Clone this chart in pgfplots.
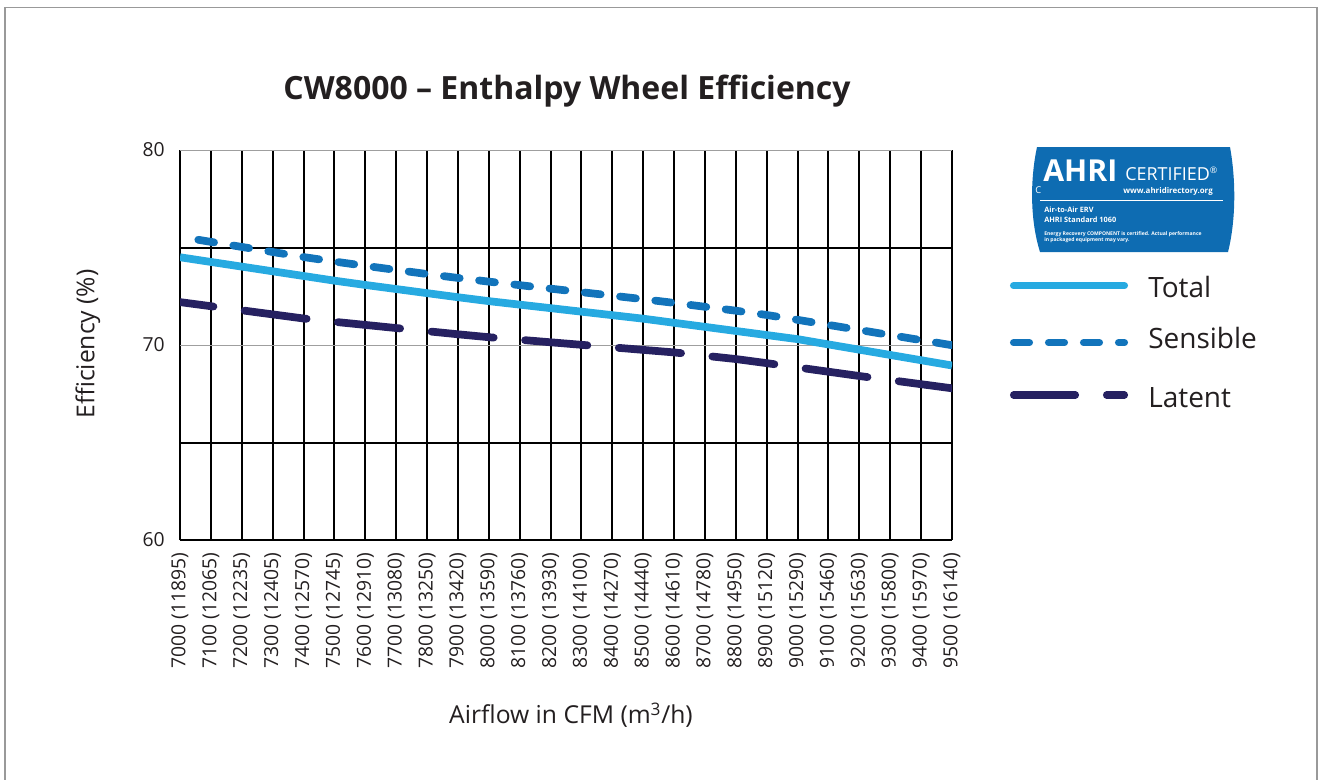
\documentclass[border=0pt]{standalone}
\usepackage{fontspec}
\setmainfont{Open Sans}
\usepackage{pgfplots}
\pgfplotsset{compat=1.18}
\usepackage{pgfplotstable}
\definecolor{ctotal}{RGB}{39,170,225}
\definecolor{csens}{RGB}{18,116,187}
\definecolor{clat}{RGB}{38,33,97}
\definecolor{cahri}{RGB}{14,108,178}
\definecolor{ctext}{RGB}{35,31,32}
\pgfplotstableread{
i total sens lat
0 74.50 75.55 72.20
1 74.26 75.29 71.99
2 74.02 75.03 71.78
3 73.78 74.77 71.57
4 73.54 74.51 71.36
5 73.30 74.28 71.19
6 73.08 74.06 71.03
7 72.87 73.85 70.87
8 72.66 73.64 70.71
9 72.45 73.44 70.55
10 72.25 73.25 70.40
11 72.07 73.07 70.27
12 71.89 72.89 70.14
13 71.71 72.71 70.01
14 71.53 72.53 69.88
15 71.35 72.35 69.75
16 71.14 72.16 69.62
17 70.93 71.96 69.45
18 70.72 71.76 69.28
19 70.51 71.54 69.07
20 70.30 71.29 68.85
21 70.03 71.03 68.63
22 69.76 70.77 68.41
23 69.49 70.51 68.20
24 69.22 70.25 67.99
25 68.95 69.99 67.78
}\data
\begin{document}
\begin{tikzpicture}
\begin{axis}[
  at={(135pt,-405pt)}, anchor=south west,
  width=579pt, height=292.5pt, scale only axis,
  xmin=0, xmax=25, ymin=60, ymax=80,
  axis line style={draw=none},
  major tick length=0pt,
  xtick={0,...,25},
  xticklabels={7000 (11895),7100 (12065),7200 (12235),7300 (12405),7400 (12570),7500 (12745),7600 (12910),7700 (13080),7800 (13250),7900 (13420),8000 (13590),8100 (13760),8200 (13930),8300 (14100),8400 (14270),8500 (14440),8600 (14610),8700 (14780),8800 (14950),8900 (15120),9000 (15290),9100 (15460),9200 (15630),9300 (15800),9400 (15970),9500 (16140)},
  x tick label style={rotate=90, anchor=east, font=\fontsize{14.5}{15}\selectfont, text=ctext},
  xticklabel shift=6pt,
  ytick={60,65,75}, yticklabels={60,{},{}},
  extra y ticks={70,80}, extra y tick labels={70,80},
  extra y tick style={major grid style={gray!75, line width=0.7pt}},
  y tick label style={font=\fontsize{14.5}{15}\selectfont, text=ctext},
  yticklabel shift=8pt,
  xmajorgrids, ymajorgrids,
  major grid style={black, line width=1.5pt},
  clip=true,
]
\addplot[clat, line width=5.8pt, line cap=round, dash pattern=on 46.9pt off 23.6pt, dash phase=21.6pt] table[x=i,y=lat]{\data};
\addplot[ctotal, line width=5.8pt] table[x=i,y=total]{\data};
\addplot[csens, line width=5.8pt, line cap=round, dash pattern=on 12pt off 14.6pt, dash phase=12.7pt] table[x=i,y=sens]{\data};
\end{axis}
\begin{scope}[x=0.75pt,y=-0.75pt]
\draw[gray!80, line width=0.8pt] (5,790) -- (5,7.5) -- (1317,7.5) -- (1317,790);
\node[font=\bfseries\fontsize{24}{24}\selectfont, text=ctext] at (567,91) {CW8000 – Enthalpy Wheel Efficiency};
\node[rotate=90, font=\fontsize{18.5}{19}\selectfont, text=ctext] at (88,344) {Efficiency (\%)};
\node[font=\fontsize{18.5}{19}\selectfont, text=ctext] at (571,715) {Airflow in CFM (m\textsuperscript{3}/h)};
% legend
\draw[ctotal, line width=5.3pt, line cap=round] (1013.5,285.7) -- (1124.5,285.7);
\draw[csens, line width=5.3pt, line cap=round, dash pattern=on 12pt off 14.25pt] (1013.5,342.7) -- (1124.5,342.7);
\draw[clat, line width=5.3pt, line cap=round, dash pattern=on 46.5pt off 23.25pt] (1013.5,395) -- (1124.5,395);
\node[anchor=base west, inner sep=0, font=\fontsize{21}{21}\selectfont, text=ctext] at (1148,297) {Total};
\node[anchor=base west, inner sep=0, font=\fontsize{21}{21}\selectfont, text=ctext] at (1148,348) {Sensible};
\node[anchor=base west, inner sep=0, font=\fontsize{21}{21}\selectfont, text=ctext] at (1148,407) {Latent};
% AHRI logo
\fill[cahri] (1037,147) -- (1230,147) .. controls (1236,180) and (1236,220) .. (1228,252) -- (1040,252) .. controls (1030,220) and (1030,180) .. (1037,147) -- cycle;
\node[anchor=base west, inner sep=0, text=white, font=\bfseries\fontsize{23}{23}\selectfont] at (1043,181) {\resizebox{55.5pt}{!}{AHRI}};
\node[anchor=base west, inner sep=0, text=white, font=\fontsize{14}{14}\selectfont] at (1125,180) {\resizebox{69pt}{!}{CERTIFIED\raisebox{5pt}{\fontsize{7}{7}\selectfont ®}}};
\node[anchor=base east, inner sep=0, text=white, font=\bfseries\fontsize{6.3}{6.3}\selectfont] at (1213,193) {\resizebox{67pt}{!}{www.ahridirectory.org}};
\node[anchor=base west, inner sep=0, text=white, font=\fontsize{7}{7}\selectfont] at (1035,193) {C};
\draw[white, line width=0.5pt] (1040,200) -- (1223,200);
\node[anchor=base west, inner sep=0, text=white, font=\bfseries\fontsize{5.8}{5.8}\selectfont] at (1044,212.7) {\resizebox{37pt}{!}{Air-to-Air ERV}};
\node[anchor=base west, inner sep=0, text=white, font=\bfseries\fontsize{5.8}{5.8}\selectfont] at (1044,222.7) {\resizebox{54pt}{!}{AHRI Standard 1060}};
\node[anchor=base west, inner sep=0, text=white, font=\bfseries\fontsize{4}{4}\selectfont] at (1044,235) {\resizebox{118pt}{!}{Energy Recovery COMPONENT is certified. Actual performance}};
\node[anchor=base west, inner sep=0, text=white, font=\bfseries\fontsize{4}{4}\selectfont] at (1044,241) {\resizebox{64pt}{!}{in packaged equipment may vary.}};
\end{scope}
\pgfresetboundingbox
\useasboundingbox (0,0) rectangle (988.5pt,-584.25pt);
\end{tikzpicture}
\end{document}
